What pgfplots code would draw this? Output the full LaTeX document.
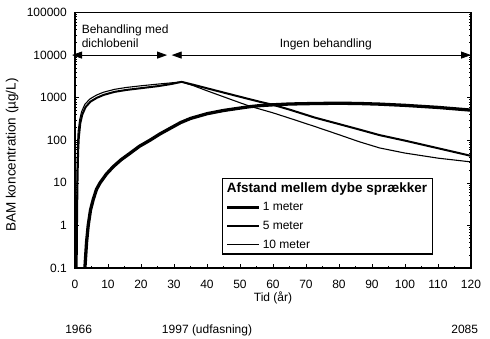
\documentclass[border=0pt]{standalone}
\usepackage{fontspec}
\setmainfont{Liberation Sans}
\usepackage{pgfplots}
\pgfplotsset{compat=1.18}
\usetikzlibrary{arrows.meta}
\begin{document}
\fontsize{12}{14}\selectfont
\begin{tikzpicture}[x=1pt,y=1pt]
\path[use as bounding box] (-75,-70) rectangle (415,268);
\begin{axis}[
  at={(0,0)}, anchor=south west,
  scale only axis, width=396pt, height=255.5pt,
  xmin=0, xmax=120, ymode=log, ymin=0.1, ymax=100000,
  xtick={0,10,...,120}, minor x tick num=1,
  ytickten={-1,0,...,5},
  log ticks with fixed point,
  /pgf/number format/1000 sep={},
  /pgf/number format/assume math mode=true,
  xtick pos=lower, ytick pos=both,
  tick align=inside,
  major tick length=4pt, minor tick length=2.5pt,
  every tick/.style={black, line width=0.5pt},
  axis line style={line width=1.1pt},
  xticklabel style={yshift=-8pt},
  yticklabel style={xshift=-4pt},
  clip=false,
  xlabel={Tid (år)},
  ylabel={BAM koncentration (µg/L)},
  x label style={at={(axis description cs:0.5,-0.117)}, anchor=center},
  y label style={at={(axis description cs:-0.159,0.442)}, anchor=center,
    font=\fontsize{13.5}{16}\selectfont},
  legend style={at={(axis description cs:0.371,0.352)}, anchor=north west,
    draw=black, line width=1.1pt, legend cell align=left,
    nodes={inner sep=2pt}, row sep=4.5pt},
  legend image code/.code={\draw[#1] (0pt,0pt) -- (32pt,0pt);},
]
\addlegendimage{empty legend}
\addlegendentry{\hspace{-36pt}{\fontsize{13.5}{16}\selectfont\bfseries Afstand mellem dybe sprækker}}

% 1 meter
\addplot[black, line width=3.3pt, line join=round] coordinates {
(3,0.1) (3.5,0.4) (4,1) (4.7,2.3) (5.5,4) (6.5,7) (7.6,10) (9.5,16) (11.6,24)
(14,35) (16.6,49) (19.5,72) (22.7,100) (25.7,140) (28.8,190) (32,260) (35,325)
(40,420) (45,500) (50,570) (53,615) (56,650) (60,680) (65,710) (72.7,730)
(80,740) (86,730) (92.3,705) (100,660) (110,590) (120,510)};
\addlegendentry{1 meter}

% 5 meter
\addplot[black, line width=2pt, line join=round] coordinates {
(0.5,0.1) (0.63,2) (0.78,15) (0.95,55) (1.15,115) (1.6,250) (2.2,400) (3.2,600)
(4.7,810) (6.7,1000) (8.8,1170) (12,1370) (15.6,1520) (20,1670) (25,1860)
(29,2080) (32.3,2350) (36,2000) (40,1660) (45,1320) (50,1050) (56,800)
(60,680) (65,525) (72.7,340) (80,240) (86,180) (92.3,132) (100,98) (110,65) (120,43)};
\addlegendentry{5 meter}

% 10 meter
\addplot[black, line width=1.1pt, line join=round] coordinates {
(0.4,0.1) (0.5,2) (0.62,20) (0.77,80) (0.95,160) (1.4,300) (2,470) (3,700)
(4.5,930) (6.5,1150) (8.6,1340) (12,1570) (15.6,1740) (20,1900) (25,2080)
(29,2220) (32.3,2350) (36,1900) (40,1450) (45,1050) (50,760) (53,630)
(56,540) (60,440) (65,330) (72.7,210) (80,135) (86,93) (92.3,66) (100,50)
(110,38) (120,31)};
\addlegendentry{10 meter}

% annotations
\draw[line width=0.8pt, {Triangle[length=10pt,width=7pt]}-{Triangle[length=10pt,width=7pt]}]
  (axis cs:-0.9,10000) -- (axis cs:27.9,10000);
\draw[line width=0.8pt, {Triangle[length=10pt,width=7pt]}-{Triangle[length=10pt,width=7pt]}]
  (axis cs:29.3,10000) -- (axis cs:120,10000);
\node[anchor=base west, inner sep=0pt] at (axis cs:2,32810) {Behandling med};
\node[anchor=base west, inner sep=0pt] at (axis cs:2,15420) {dichlobenil};
\node[anchor=base, inner sep=0pt] at (axis cs:76,15420) {Ingen behandling};
\node[anchor=base west, inner sep=0pt, yshift=-65pt] at (axis cs:-3,0.1) {1966};
\node[anchor=base west, inner sep=0pt, yshift=-65pt] at (axis cs:26.3,0.1) {1997 (udfasning)};
\node[anchor=base east, inner sep=0pt, yshift=-65pt] at (axis cs:122.2,0.1) {2085};
\end{axis}
\end{tikzpicture}
\end{document}
